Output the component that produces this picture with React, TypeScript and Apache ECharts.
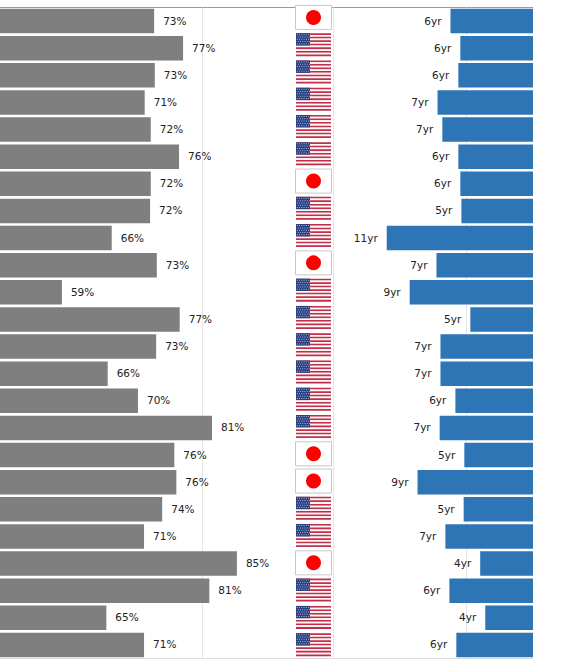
import React, { useEffect, useRef } from "react";
import * as echarts from "echarts";

const rows = Array.from({ length: 24 }, (_, i) => `Row ${i + 1}`);
const countries = ["JP","US","US","US","US","US","JP","US","US","JP","US","US","US","US","US","US","JP","JP","US","US","JP","US","US","US"];
const pctValues = [72.9,77.2,73.0,71.5,72.4,76.6,72.4,72.3,66.6,73.3,59.2,76.7,73.2,66.0,70.5,81.5,75.9,76.2,74.1,71.4,85.2,81.1,65.8,71.4];
const pctLabels = [73,77,73,71,72,76,72,72,66,73,59,77,73,66,70,81,76,76,74,71,85,81,65,71];
const yrValues = [6.19,5.45,5.6,7.16,6.8,5.6,5.45,5.37,10.97,7.24,9.25,4.7,6.94,6.94,5.82,7.0,5.15,8.66,5.2,6.57,3.96,6.27,3.58,5.75];
const yrLabels = [6,6,6,7,7,6,6,5,11,7,9,5,7,7,6,7,5,9,5,7,4,6,4,6];

const FONT = "'DejaVu Sans'";

function renderFlag(_params: any, api: any) {
  const idx = api.value(1);
  const code = countries[idx];
  const [px, cy] = api.coord([0.5, idx]);
  const cx = px - 0.5;
  const children: any[] = [];
  if (code === "JP") {
    children.push({
      type: "rect",
      shape: { x: cx - 18, y: cy - 12, width: 36, height: 24 },
      style: { fill: "#fff", stroke: "#c8c8c8", lineWidth: 1 },
    });
    children.push({
      type: "circle",
      shape: { cx, cy, r: 7.5 },
      style: { fill: "#fe0000" },
    });
  } else {
    const w = 35;
    const h = 23;
    const x0 = cx - 17.5;
    const y0 = cy - 11.5;
    const sh = h / 13;
    for (let s = 0; s < 13; s++) {
      children.push({
        type: "rect",
        shape: { x: x0, y: y0 + s * sh, width: w, height: sh },
        style: { fill: s % 2 === 0 ? "#c0304a" : "#fbf6f7" },
      });
    }
    children.push({
      type: "rect",
      shape: { x: x0, y: y0, width: 14, height: sh * 7 },
      style: { fill: "#27407f" },
    });
    for (let r = 0; r < 5; r++) {
      for (let c = 0; c < 6; c++) {
        children.push({
          type: "rect",
          shape: { x: x0 + 0.8 + c * 2.25 + (r % 2) * 0.9, y: y0 + 1 + r * 2.3, width: 1, height: 1 },
          style: { fill: "#a9b4d6" },
        });
      }
    }
  }
  return { type: "group", children };
}

export default function App() {
  const ref = useRef<HTMLDivElement>(null);
  useEffect(() => {
    const chart = echarts.init(ref.current!, null, { renderer: "svg" });
    const top = 7.5;
    const height = 651;
    const yAxisBase = (gridIndex: number) => ({
      type: "category" as const,
      gridIndex,
      data: rows,
      inverse: true,
      axisLine: { show: false },
      axisTick: { show: false },
      axisLabel: { show: false },
      splitLine: { show: false },
    });
    const hiddenX = {
      axisLine: { show: false },
      axisTick: { show: false },
      axisLabel: { show: false },
      splitLine: { show: false },
    };
    const gridMark = (value: number) => ({
      silent: true,
      symbol: "none",
      z: 1,
      label: { show: false },
      lineStyle: { color: "#e6e6e6", width: 1, type: "solid" as const },
      data: [{ xAxis: value }],
    });
    chart.setOption({
      animation: false,
      backgroundColor: "#fff",
      grid: [
        { left: 0, top, width: 295, height },
        { left: 295, top: 3.8, width: 38, height: 654.5 },
        { left: 333, top, width: 200, height },
      ],
      xAxis: [
        { type: "value", gridIndex: 0, min: 50, max: 93.83, ...hiddenX },
        { type: "value", gridIndex: 1, min: 0, max: 1, ...hiddenX },
        { type: "value", gridIndex: 2, min: 0, max: 15, inverse: true, ...hiddenX },
      ],
      yAxis: [yAxisBase(0), yAxisBase(1), yAxisBase(2)],
      graphic: [
        { type: "line", z: 0, shape: { x1: 0, y1: 7.5, x2: 533, y2: 7.5 }, style: { stroke: "#999999", lineWidth: 1 } },
        { type: "line", z: 0, shape: { x1: 0, y1: 658.5, x2: 533, y2: 658.5 }, style: { stroke: "#dcdcdc", lineWidth: 1 } },
        { type: "line", z: 0, shape: { x1: 333.5, y1: 7.5, x2: 333.5, y2: 658.5 }, style: { stroke: "#e6e6e6", lineWidth: 1 } },
      ],
      series: [
        {
          type: "bar",
          xAxisIndex: 0,
          yAxisIndex: 0,
          z: 2,
          data: pctValues,
          barWidth: 24.5,
          itemStyle: { color: "#7f7f7f" },
          label: {
            show: true,
            position: "right",
            distance: 9,
            fontFamily: FONT,
            fontSize: 10.5,
            color: "#222",
            offset: [0, -0.5],
            formatter: (p: any) => `${pctLabels[p.dataIndex]}%`,
          },
          markLine: gridMark(80),
        },
        {
          type: "custom",
          xAxisIndex: 1,
          yAxisIndex: 1,
          z: 3,
          renderItem: renderFlag,
          encode: { x: 0, y: 1 },
          data: rows.map((_, i) => [0.5, i]),
        },
        {
          type: "bar",
          xAxisIndex: 2,
          yAxisIndex: 2,
          z: 2,
          data: yrValues,
          barWidth: 24.5,
          itemStyle: { color: "#2e75b6" },
          label: {
            show: true,
            position: "left",
            distance: 9,
            fontFamily: FONT,
            fontSize: 10.5,
            color: "#222",
            offset: [0, -0.5],
            formatter: (p: any) => `${yrLabels[p.dataIndex]}yr`,
          },
          markLine: gridMark(5),
        },
      ],
    });
    return () => chart.dispose();
  }, []);
  return <div ref={ref} style={{ position: "absolute", left: 0, top: 0, width: 562, height: 669 }} />;
}
